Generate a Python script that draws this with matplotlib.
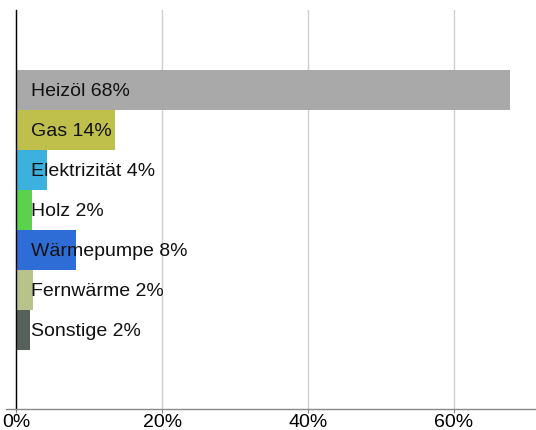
import matplotlib
matplotlib.use("Agg")
import matplotlib.pyplot as plt

categories = ["Heizöl", "Gas", "Elektrizität", "Holz", "Wärmepumpe", "Fernwärme", "Sonstige"]
values = [67.7, 13.5, 4.2, 2.1, 8.1, 2.3, 1.8]
labels = ["Heizöl 68%", "Gas 14%", "Elektrizität 4%", "Holz 2%", "Wärmepumpe 8%", "Fernwärme 2%", "Sonstige 2%"]
colors = ["#a9a9a9", "#bfc04b", "#3db1dd", "#5bd24b", "#2e6dd6", "#b7c38b", "#56615c"]
xticks = [0, 20, 40, 60]
xticklabels = ["0%", "20%", "40%", "60%"]

plt.rcParams['font.family'] = ['Liberation Sans', 'DejaVu Sans']

W, H = 536, 430
fig = plt.figure(figsize=(W/100, H/100), dpi=100)
ax = fig.add_axes([6/W, (H-409)/H, (W-6)/W, (409-10)/H])

y = list(range(len(categories)))
ax.barh(y, values, height=1.0, color=colors, zorder=2)
for yi, lab in zip(y, labels):
    ax.text(2.0, yi + 0.05, lab, va='center', ha='left', fontsize=14, color='#111111', zorder=3)

ax.set_xlim(-1.44, 71.26)
ax.set_ylim(7.98, -2)
ax.set_xticks(xticks)
ax.set_xticklabels(xticklabels, fontsize=14)
ax.set_yticks([])
ax.grid(axis='x', color='#d0d0d0', linewidth=1, zorder=0)
ax.tick_params(axis='x', length=3, color='#888888', pad=0.5)
for s in ['top', 'right']:
    ax.spines[s].set_visible(False)
ax.spines['left'].set_position(('data', 0))
ax.spines['left'].set_color('black')
ax.spines['left'].set_linewidth(1)
ax.spines['bottom'].set_color('#888888')
ax.spines['bottom'].set_linewidth(1)

fig.savefig("out.png", dpi=100)
